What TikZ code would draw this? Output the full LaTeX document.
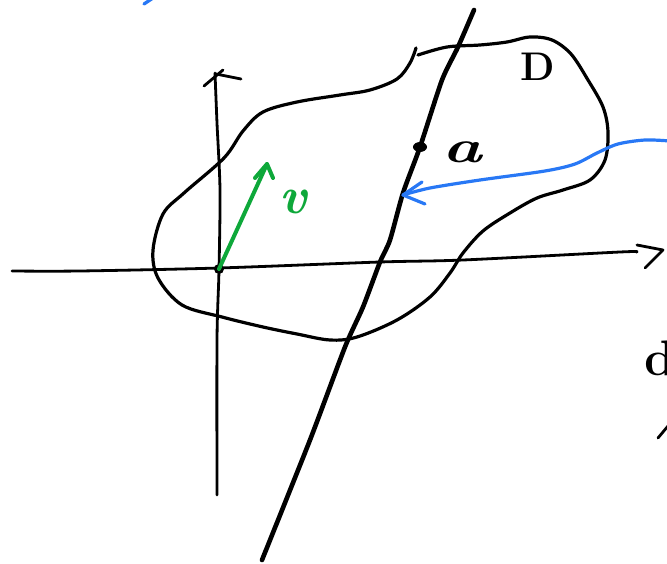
\documentclass[tikz,border=0pt]{standalone}
\usepackage{fontspec}
\setmainfont{Latin Modern Roman}
\definecolor{penblue}{RGB}{40,120,245}
\definecolor{pengreen}{RGB}{14,168,58}
\begin{document}
\begin{tikzpicture}[x=1pt,y=-1pt,line cap=round,line join=round,
  axis/.style={line width=2.8pt,black},
  blob/.style={line width=3.2pt,black},
  slant/.style={line width=4.6pt,black},
  vecgreen/.style={line width=4pt,pengreen},
  penb/.style={line width=3.2pt,penblue},
  lbl/.style={inner sep=0pt,anchor=base}]
\useasboundingbox (0,0) rectangle (667,564);
% key points
\coordinate (O) at (219,269);
\coordinate (A) at (420,147);
\coordinate (vtip) at (267,164);
\coordinate (btip) at (403,195);
% horizontal axis
\draw[axis] plot[smooth,tension=0.5] coordinates {(12,271) (80,271) (219,268) (380,262) (463,260) (620,252) (636,252)};
\draw[axis] (637,245) -- (663,250) -- (645,268);
% vertical axis
\draw[axis] plot[smooth,tension=0.5] coordinates {(217,495) (217,340) (219,270) (220,190) (217,123) (215,73)};
\draw[axis] (204,86) -- (223,70);
\draw[axis] (216,74) -- (241,79);
% region D
\draw[blob] plot[smooth,tension=0.55] coordinates {(418,55) (447,47) (480,45) (507,42) (530,37) (552,40) (571,54) (588,80) (603,107) (608,132) (605,160) (590,180) (563,190) (537,198) (510,213) (483,231) (463,253) (450,273) (430,297) (397,320) (357,337) (330,340) (297,334) (263,327) (222,317) (182,305) (158,278) (153,250) (163,214) (184,193) (224,158) (243,131) (263,112) (297,102) (340,95) (370,90) (397,79) (410,63) (416,48)};
% slanted line
\draw[slant] plot[smooth,tension=0.4] coordinates {(474,10) (458,47) (442,80) (A) (403,193) (390,240) (380,262) (363,307) (345,347) (310,440) (262,560)};
% point a
\fill (A) ellipse [x radius=7pt, y radius=5pt];
\node[lbl,font=\fontsize{46}{46}\selectfont\bfseries\itshape,xscale=1.45] (alabel) at (462,163) {a};
% label D
\node[lbl,font=\fontsize{40}{40}\selectfont\bfseries] (Dlabel) at (538,81) {D};
% origin and vector v
\fill (O) circle [radius=5pt];
\draw[vecgreen] (O) -- (vtip);
\draw[vecgreen] (255,178) -- (vtip) -- (273,178);
\node[lbl,font=\fontsize{52}{52}\selectfont\bfseries\itshape,text=pengreen] (vlabel) at (293,214) {v};
% blue pointer
\draw[penb] plot[smooth,tension=0.5] coordinates {(670,141) (645,140) (618,144) (597,153) (575,164) (545,171) (480,180) (430,188) (btip)};
\draw[penb] (422,182) -- (btip) -- (425,204);
\draw[penb] (153,-2) -- (144,4);
% right edge fragments
\node[lbl,font=\fontsize{50}{50}\selectfont\bfseries] (dlabel) at (660,375) {d};
\draw[axis] (658,438) -- (668,426);
\end{tikzpicture}
\end{document}
